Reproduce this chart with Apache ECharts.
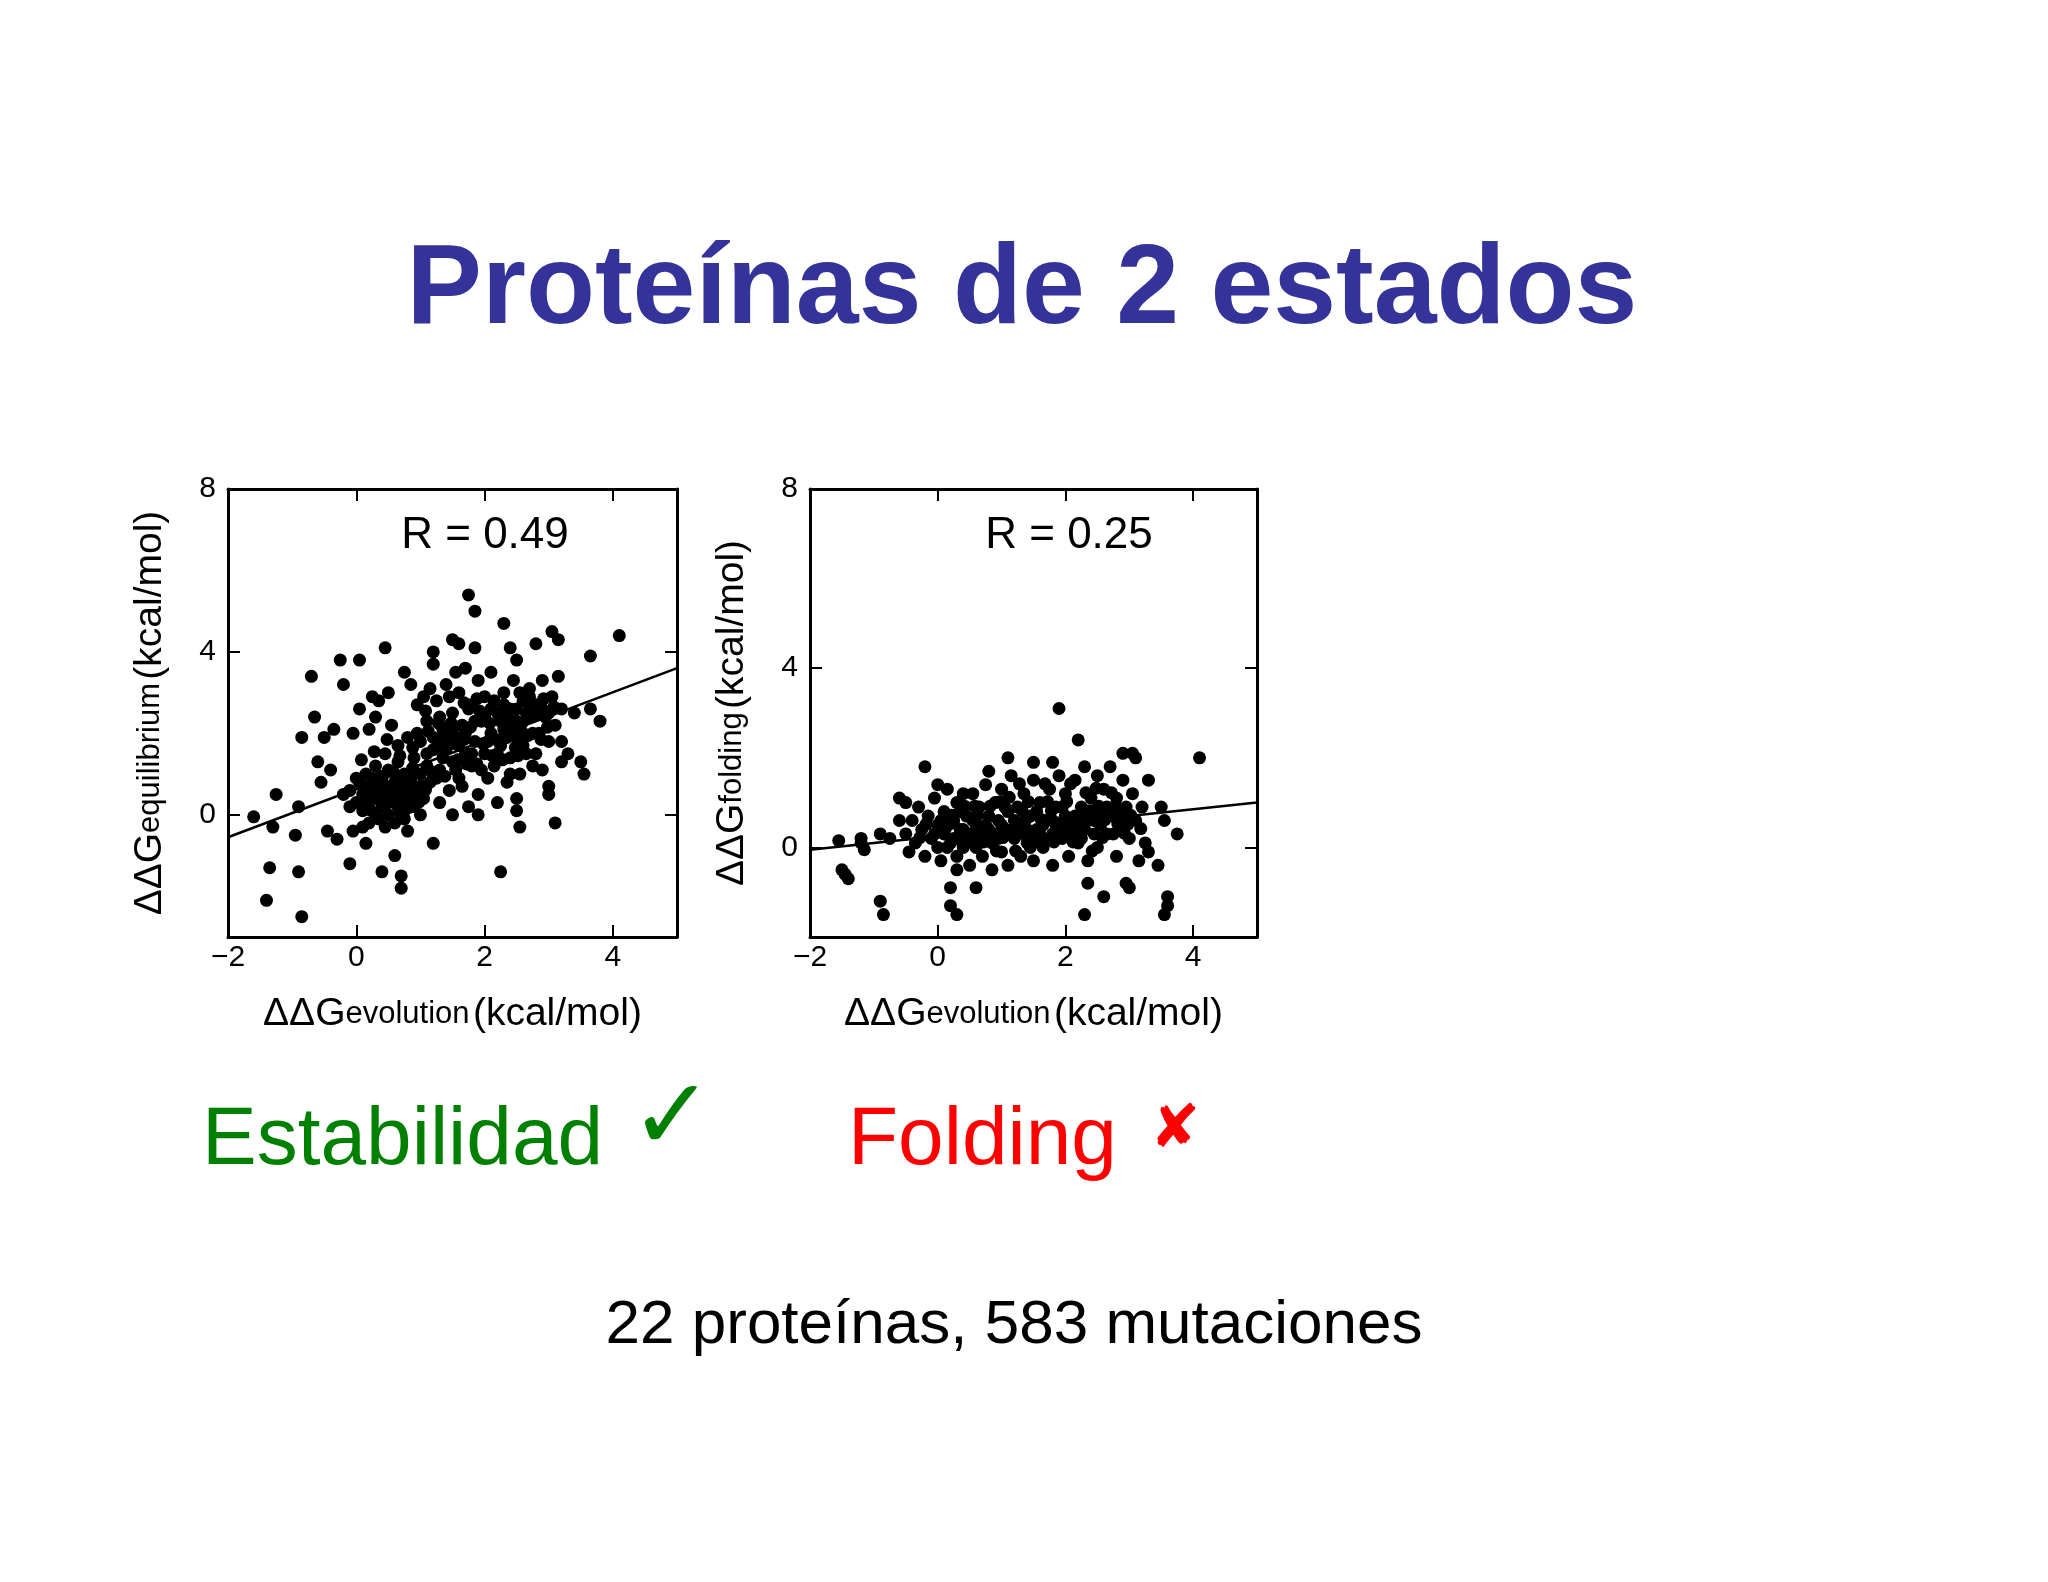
<!DOCTYPE html>
<html><head><meta charset="utf-8">
<script src="https://cdn.jsdelivr.net/npm/echarts@6/dist/echarts.min.js"></script>
<style>html,body{margin:0;background:#fff}#c{width:2048px;height:1582px}</style>
</head><body><div id="c"></div>
<script>
const xTicks = [-2, 0, 2, 4];
const yTicks = [0, 4, 8];
const fitEquilibrium = [[-2, -0.55], [5, 3.6]];
const fitFolding = [[-2, -0.05], [5, 1.0]];
const equilibrium = [
[-1.6,-0.05],[-1.4,-2.1],[-1.35,-1.3],[-1.3,-0.3],[-1.25,0.5],[-0.85,-2.5],[-0.9,-1.4],[-0.95,-0.5],[-0.9,0.2],[-0.85,1.9],[-0.7,3.4],[-0.65,2.4],[-0.6,1.3],[-0.55,0.8],[-0.5,1.9],[-0.45,-0.4],[-0.4,1.1],[-0.35,2.1],[-0.3,-0.6],[-0.25,3.8],[-0.2,3.2],[-0.2,0.5],[-0.1,0.6],[-0.05,2.0],[-0.05,-0.4],[-0.1,-1.2],[0.05,2.6],[0.05,3.8],[0.15,-0.7],[0.2,2.1],[0.25,2.9],[0.3,2.4],[0.35,2.8],[0.4,-1.4],[0.45,4.1],[0.5,3.0],[0.6,-1.0],[0.7,-1.5],[0.7,-1.8],[0.75,3.5],[0.85,3.2],[0.95,2.7],[1.2,4.0],[1.2,3.7],[1.2,-0.7],[1.5,4.3],[1.6,4.2],[1.55,3.5],[1.75,5.4],[1.85,5.0],[1.85,4.1],[2.25,-1.4],[2.3,4.7],[2.4,4.1],[2.5,3.8],[2.55,-0.3],[2.5,0.4],[2.5,0.1],[2.8,4.2],[3.05,4.5],[3.15,4.3],[3.1,-0.2],[3.0,0.5],[3.0,0.7],[3.55,1.0],[3.65,3.9],[3.65,2.6],[3.8,2.3],[4.1,4.4],[3.4,2.5],[3.5,1.3],[3.2,1.3],[3.3,1.5],[2.9,1.1],
[0,0.3],[0.05,0.8],[0.1,0.1],[0.1,0.5],[0.15,1.0],[0.2,-0.2],[0.2,0.4],[0.25,0.7],[0.3,0.0],[0.3,1.2],[0.35,0.5],[0.4,0.2],[0.4,0.9],[0.45,-0.3],[0.45,0.6],[0.5,0.0],[0.5,1.1],[0.55,0.4],[0.6,0.8],[0.6,-0.2],[0.65,0.2],[0.65,1.3],[0.7,0.6],[0.75,0.1],[0.75,1.0],[0.8,0.4],[0.8,-0.4],[0.85,0.9],[0.9,0.2],[0.9,1.4],[0.95,0.6],[1.0,0.0],[1.0,1.0],[0.15,0.3],[0.25,0.9],[0.35,-0.1],[0.55,0.7],[0.7,0.3],[0.85,0.5],[0.6,0.5],[0.4,0.6],[0.3,0.4],[0.2,0.7],[0.5,0.3],[0.7,0.9],[0.9,0.7],[0.1,-0.3],[0.0,0.9],[-0.1,0.2],[0.45,1.5],[0.65,1.7],[0.8,1.9],[0.95,2.0],[0.55,2.2],[0.75,-0.1],[1.05,0.4],
[1.1,1.5],[1.1,2.3],[1.15,0.8],[1.2,1.9],[1.25,2.8],[1.3,1.1],[1.3,0.3],[1.35,2.1],[1.4,3.2],[1.4,1.6],[1.45,0.6],[1.5,2.5],[1.5,1.3],[1.55,1.9],[1.6,3.0],[1.6,0.9],[1.65,2.2],[1.7,1.5],[1.7,3.6],[1.75,0.2],[1.8,2.7],[1.8,1.2],[1.85,1.8],[1.9,3.3],[1.9,0.5],[1.95,2.3],[2.0,1.5],[2.0,2.9],[2.05,0.9],[2.1,2.0],[2.1,3.5],[2.15,1.2],[2.2,2.5],[2.2,0.3],[2.25,1.7],[2.3,3.0],[2.3,2.1],[2.35,0.8],[2.4,2.6],[2.4,1.4],[2.45,3.3],[2.5,1.9],[2.5,2.3],[2.55,1.0],[2.6,2.8],[2.6,2.0],[2.65,1.5],[2.7,3.1],[2.7,2.4],[2.75,1.2],[2.8,2.7],[2.85,2.0],[2.9,3.3],[2.95,2.4],[3.0,1.8],[3.05,2.9],[3.1,2.2],[3.15,3.4],[3.2,2.6],[3.2,1.8],[1.05,2.9],[1.15,3.1],[1.35,1.4],[1.45,2.9],[1.65,0.7],[1.75,2.6],[1.95,1.1],[2.15,2.8],[2.35,1.9],[2.55,3.0],[2.75,2.0],[2.9,2.6],[1.25,0.9],[1.55,1.1],[1.85,2.3],[2.05,1.8],[2.25,2.3],[2.45,2.1],[2.65,2.5],[1.0,1.8],[1.1,1.2],[1.3,2.4],[1.5,0.0],[1.7,2.0],[1.9,0.0],[2.0,2.4],[2.2,1.5],[2.4,1.0],[2.6,1.7],[2.8,1.5],[3.0,2.5],[1.2,1.6],[1.4,2.0],[1.6,1.7],[1.8,1.5],[2.1,2.6],[2.3,2.7],[2.5,2.6],[2.7,2.9],
[0.12,0.62],[0.22,0.12],[0.32,0.82],[0.42,0.38],[0.52,0.68],[0.62,0.28],[0.72,0.78],[0.82,0.18],[0.92,0.48],[1.02,0.72],[0.18,0.22],[0.28,0.55],[0.38,0.95],[0.48,0.45],[0.58,1.05],[0.68,0.05],[0.78,0.65],[0.88,1.15],[0.98,0.32],[1.08,0.62],[1.18,1.05],[1.28,1.65],[1.38,0.95],[1.48,1.75],[1.58,1.35],[1.68,1.85],[1.78,2.15],[1.88,1.25],[1.98,1.75],[2.08,2.25],[2.18,1.85],[2.28,1.35],[2.38,2.35],[2.48,1.65],[2.58,2.25],[2.68,1.95],[2.78,2.45],[2.88,1.85],[2.98,2.15],[3.08,2.65],[1.12,2.05],[1.32,1.85],[1.52,2.15],[1.72,1.25],[1.92,2.55],[2.12,1.45],[2.32,2.45],[2.52,1.45],[2.72,2.65],[2.92,2.85],[0.08,1.35],[0.28,1.55],[0.48,1.85],[0.68,1.45],[0.88,1.65],[1.08,2.55],[1.28,2.25],[1.48,2.25],[1.68,2.75],[1.88,2.85]
];
const folding = [
[-1.55,0.15],[-1.5,-0.5],[-1.45,-0.6],[-1.4,-0.7],[-1.2,0.1],[-1.2,0.2],[-1.15,-0.05],[-0.9,-1.2],[-0.85,-1.5],[-0.9,0.3],[-0.75,0.2],[-0.6,1.1],[-0.5,1.0],[-0.6,0.6],[-0.2,1.8],[0.0,1.4],[0.2,-0.9],[0.2,-1.3],[0.3,-1.5],[0.3,-0.5],[0.4,1.2],[0.6,-0.9],[0.8,1.7],[1.1,2.0],[1.5,1.9],[1.9,3.1],[1.8,1.9],[2.2,2.4],[2.3,-1.5],[2.35,-0.8],[2.6,-1.1],[2.95,-0.8],[3.0,-0.9],[3.05,2.1],[3.1,2.0],[3.3,1.5],[3.45,-0.4],[3.5,0.9],[3.55,0.6],[3.6,-1.1],[3.6,-1.3],[3.55,-1.5],[3.75,0.3],[4.1,2.0],[2.9,2.1],
[-0.5,0.3],[-0.45,-0.1],[-0.4,0.6],[-0.35,0.1],[-0.3,0.9],[-0.25,0.4],[-0.2,-0.2],[-0.15,0.7],[-0.1,0.2],[-0.05,1.1],[0.0,0.0],[0.0,0.5],[0.05,-0.3],[0.1,0.8],[0.1,0.3],[0.15,1.3],[0.2,0.1],[0.25,0.6],[0.3,-0.2],[0.3,1.0],[0.35,0.4],[0.4,0.0],[0.45,0.7],[0.5,-0.4],[0.5,0.3],[0.55,1.2],[0.6,0.5],[0.6,0.0],[0.65,0.9],[0.7,-0.2],[0.7,0.4],[0.75,1.4],[0.8,0.2],[0.8,0.7],[0.85,-0.5],[0.9,1.0],[0.9,0.3],[0.95,0.6],[1.0,-0.1],[1.0,1.3],[1.05,0.4],[1.1,0.8],[1.1,-0.4],[1.15,1.6],[1.2,0.2],[1.25,0.9],[1.3,-0.2],[1.3,0.5],[1.35,1.2],[1.4,0.1],[1.45,0.7],[1.5,1.5],[1.5,-0.3],[1.55,0.4],[1.6,1.0],[1.65,0.0],[1.7,0.6],[1.75,1.3],[1.8,0.3],[1.8,-0.4],[1.85,0.9],[1.9,1.6],[1.95,0.2],[2.0,0.7],[2.0,1.2],[2.05,-0.2],[2.1,0.5],[2.15,1.5],[2.2,0.1],[2.25,0.9],[2.3,1.8],[2.3,0.4],[2.35,-0.3],[2.4,1.1],[2.45,0.6],[2.5,1.6],[2.5,0.0],[2.55,0.8],[2.6,1.3],[2.65,0.3],[2.7,1.8],[2.75,0.7],[2.8,-0.2],[2.8,1.1],[2.85,0.4],[2.9,1.5],[2.95,0.9],[3.0,0.2],[3.05,1.2],[3.1,0.6],[3.15,-0.3],[3.2,0.9],[3.25,0.1],[3.3,-0.1],
[0.15,0.0],[0.25,0.2],[0.35,0.8],[0.45,0.2],[0.55,0.6],[0.65,0.3],[0.75,0.5],[0.85,0.1],[0.95,0.2],[1.05,0.9],[1.15,0.3],[1.25,0.5],[1.35,0.3],[1.45,0.0],[1.55,0.8],[1.65,0.5],[1.75,0.2],[1.85,0.5],[1.95,0.9],[2.05,0.4],[2.15,0.7],[2.25,0.2],[2.35,0.6],[2.45,0.3],[2.55,0.5],[2.65,0.9],[2.75,0.3],[2.85,0.7],[0.05,0.6],[-0.05,0.3],[0.4,0.4],[0.6,0.2],[0.8,0.4],[1.0,0.5],[1.2,0.6],[1.4,0.4],[1.6,0.3],[1.8,0.6],[2.0,0.3],[2.2,0.5],
[0.12,0.42],[0.22,0.72],[0.32,0.22],[0.42,0.92],[0.52,0.12],[0.62,0.72],[0.72,0.12],[0.82,0.92],[0.92,-0.08],[1.02,0.22],[1.12,1.12],[1.22,-0.08],[1.32,0.82],[1.42,1.02],[1.52,0.22],[1.62,0.62],[1.72,1.02],[1.82,0.12],[1.92,0.42],[2.02,1.02],[2.12,0.12],[2.22,0.72],[2.32,1.22],[2.42,-0.08],[2.52,0.92],[2.62,0.62],[2.72,1.22],[2.82,0.52],[2.92,0.32],[3.02,0.72],[-0.28,0.22],[-0.18,0.52],[0.18,0.52],[0.38,0.12],[0.58,0.92],[0.78,0.32],[0.98,1.02],[1.18,0.42],[1.38,0.62],[1.58,0.12],[1.78,0.82],[1.98,0.62],[2.18,0.32],[2.38,0.82],[2.58,0.22],[2.78,0.92],[2.98,0.52],[3.18,0.42],[1.28,1.42],[1.68,1.42],[2.08,1.42],[2.48,1.32]
];
const ff = '"Liberation Sans", Arial, sans-serif';
const chart = echarts.init(document.getElementById('c'));
function axes(gi, ymin, yname){
  const lbl = {fontFamily: ff, fontSize: 30, color: '#000'};
  const tick = {inside: true, length: 12, lineStyle: {color: '#000', width: 2}};
  const nts = {rich: {a: {fontFamily: ff, fontSize: 39, color: '#000'}, b: {fontFamily: ff, fontSize: 31, color: '#000'}}};
  return {
    x: [
      {gridIndex: gi, type: 'value', min: -2, max: 5,
       axisLine: {show: true, onZero: false, lineStyle: {color: '#000', width: 3}},
       axisTick: Object.assign({customValues: xTicks}, tick),
       axisLabel: Object.assign({customValues: xTicks, margin: 6, formatter: v => v < 0 ? '\u2212' + Math.abs(v) : '' + v}, lbl),
       splitLine: {show: false},
       name: '{a|ΔΔG}{b|evolution} {a|(kcal/mol)}', nameLocation: 'middle', nameGap: 58, nameTextStyle: nts},
      {gridIndex: gi, type: 'value', min: -2, max: 5, position: 'top',
       axisLine: {show: true, onZero: false, lineStyle: {color: '#000', width: 3}},
       axisTick: Object.assign({customValues: xTicks}, tick), axisLabel: {show: false}, splitLine: {show: false}}
    ],
    y: [
      {gridIndex: gi, type: 'value', min: ymin, max: 8,
       axisLine: {show: true, onZero: false, lineStyle: {color: '#000', width: 3}},
       axisTick: Object.assign({customValues: yTicks}, tick),
       axisLabel: Object.assign({customValues: yTicks, margin: 12}, lbl),
       splitLine: {show: false},
       name: '{a|ΔΔG}{b|' + yname + '} {a|(kcal/mol)}', nameLocation: 'middle', nameGap: 58, nameRotate: 90, nameTextStyle: nts},
      {gridIndex: gi, type: 'value', min: ymin, max: 8, position: 'right',
       axisLine: {show: true, onZero: false, lineStyle: {color: '#000', width: 3}},
       axisTick: Object.assign({customValues: yTicks}, tick), axisLabel: {show: false}, splitLine: {show: false}}
    ]
  };
}
const a1 = axes(0, -3, 'equilibrium'), a2 = axes(1, -2, 'folding');
const txt = (x, y, t, size, color, weight, align) => ({type: 'text', x, y, style: {text: t, fontFamily: ff, fontSize: size, fill: color, fontWeight: weight || 'normal', align: align || 'center', verticalAlign: 'middle'}});
chart.setOption({
  animation: false,
  grid: [{left: 228, top: 489, width: 449, height: 448}, {left: 810, top: 489, width: 447, height: 448}],
  xAxis: [...a1.x, ...a2.x],
  yAxis: [...a1.y, ...a2.y],
  series: [
    {type: 'scatter', xAxisIndex: 0, yAxisIndex: 0, data: equilibrium, symbolSize: 13, itemStyle: {color: '#000', opacity: 1}},
    {type: 'line', xAxisIndex: 0, yAxisIndex: 0, data: fitEquilibrium, symbol: 'none', lineStyle: {color: '#000', width: 2.5}},
    {type: 'scatter', xAxisIndex: 2, yAxisIndex: 2, data: folding, symbolSize: 13, itemStyle: {color: '#000', opacity: 1}},
    {type: 'line', xAxisIndex: 2, yAxisIndex: 2, data: fitFolding, symbol: 'none', lineStyle: {color: '#000', width: 2.5}}
  ],
  graphic: [
    txt(1022, 292, 'Proteínas de 2 estados', 113, '#333399', 'bold'),
    txt(485, 536, 'R = 0.49', 44, '#000'),
    txt(1069, 536, 'R = 0.25', 44, '#000'),
    txt(202, 1141, 'Estabilidad', 82, '#008000', 'normal', 'left'),
    txt(672, 1121, '✓', 100, '#008000', 'normal', 'center'),
    txt(848, 1141, 'Folding', 82, '#ff0000', 'normal', 'left'),
    txt(1175, 1130, '✘', 60, '#ff0000', 'normal', 'center'),
    txt(1014, 1326, '22 proteínas, 583 mutaciones', 62, '#000')
  ]
});
</script></body></html>
